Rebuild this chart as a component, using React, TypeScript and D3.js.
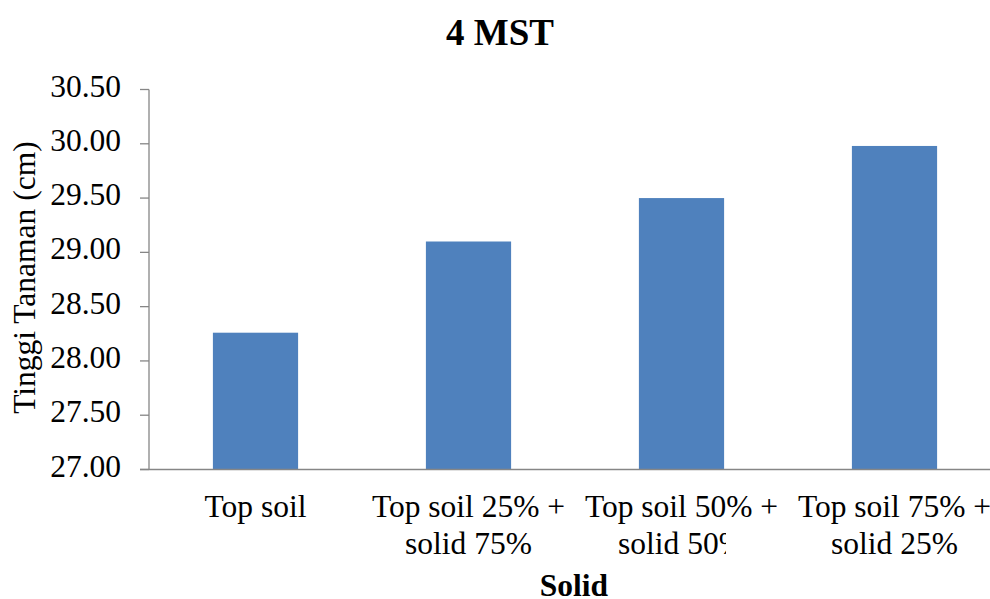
import React, { useEffect, useRef } from "react";
import * as d3 from "d3";

// Plant height at 4 weeks after planting, by growing medium
const categories: string[][] = [
  ["Top soil"],
  ["Top soil 25% +", "solid 75%"],
  ["Top soil 50% +", "solid 50%"],
  ["Top soil 75% +", "solid 25%"],
];
const heights: number[] = [28.26, 29.1, 29.5, 29.98];
const yTicks: number[] = [27.0, 27.5, 28.0, 28.5, 29.0, 29.5, 30.0, 30.5];

const title = "4 MST";
const xTitle = "Solid";
const yTitle = "Tinggi Tanaman (cm)";

const W = 990;
const H = 599;
const FONT = "Liberation Serif, Times New Roman, serif";

export default function App() {
  const ref = useRef<SVGSVGElement | null>(null);

  useEffect(() => {
    const svg = d3.select(ref.current);
    svg.selectAll("*").remove();

    const left = 149;
    const right = 1001;
    const top = 89.5;
    const bottom = 469.5;

    const keys = categories.map((_, i) => String(i));
    const x = d3
      .scaleBand<string>()
      .domain(keys)
      .range([left, right])
      .paddingInner(0.6)
      .paddingOuter(0.3);
    const y = d3.scaleLinear().domain([27, 30.5]).range([bottom, top]);

    // clip for the wrapped label of the third category
    svg
      .append("defs")
      .append("clipPath")
      .attr("id", "cat3clip")
      .append("rect")
      .attr("x", 0)
      .attr("y", 0)
      .attr("width", 726)
      .attr("height", H);

    // bars
    svg
      .append("g")
      .selectAll("rect")
      .data(heights)
      .join("rect")
      .attr("x", (_, i) => x(String(i)) as number)
      .attr("width", x.bandwidth())
      .attr("y", (d) => y(d))
      .attr("height", (d) => y(27) - y(d))
      .attr("fill", "#4F81BD");

    // y axis
    const yAxis = svg.append("g");
    yAxis
      .append("line")
      .attr("x1", left)
      .attr("x2", left)
      .attr("y1", y(30.5))
      .attr("y2", y(27))
      .attr("stroke", "#868686")
      .attr("stroke-width", 1.3);
    yAxis
      .selectAll("line.tick")
      .data(yTicks)
      .join("line")
      .attr("class", "tick")
      .attr("x1", left - 9)
      .attr("x2", left)
      .attr("y1", (d) => y(d))
      .attr("y2", (d) => y(d))
      .attr("stroke", "#868686")
      .attr("stroke-width", 1.3);
    yAxis
      .selectAll("text")
      .data(yTicks)
      .join("text")
      .attr("x", 121)
      .attr("y", (d) => y(d) + 7)
      .attr("text-anchor", "end")
      .style("font-family", FONT)
      .style("font-size", "31.5px")
      .attr("fill", "#000")
      .text((d) => d3.format(".2f")(d));

    // x axis line
    svg
      .append("line")
      .attr("x1", left - 9)
      .attr("x2", right)
      .attr("y1", y(27))
      .attr("y2", y(27))
      .attr("stroke", "#868686")
      .attr("stroke-width", 1.3);

    // category labels
    categories.forEach((lines, i) => {
      const cx = (x(String(i)) as number) + x.bandwidth() / 2;
      lines.forEach((line, j) => {
        const t = svg
          .append("text")
          .attr("x", cx)
          .attr("y", 517 + j * 36.5)
          .attr("text-anchor", "middle")
          .style("font-family", FONT)
          .style("font-size", "31.5px")
          .attr("fill", "#000")
          .text(line);
        if (i === 2 && j === 1) t.attr("clip-path", "url(#cat3clip)");
      });
    });

    // titles
    svg
      .append("text")
      .attr("x", 500)
      .attr("y", 45)
      .attr("text-anchor", "middle")
      .style("font-family", FONT)
      .style("font-weight", "bold")
      .style("font-size", "37px")
      .text(title);

    svg
      .append("text")
      .attr("x", 574)
      .attr("y", 596)
      .attr("text-anchor", "middle")
      .style("font-family", FONT)
      .style("font-weight", "bold")
      .style("font-size", "31.5px")
      .text(xTitle);

    svg
      .append("text")
      .attr("transform", "translate(35, 277.6) rotate(-90)")
      .attr("text-anchor", "middle")
      .style("font-family", FONT)
      .style("font-size", "31.5px")
      .text(yTitle);
  }, []);

  return (
    <svg
      ref={ref}
      width={W}
      height={H}
      style={{ position: "absolute", left: 0, top: 0, background: "#fff" }}
    />
  );
}
